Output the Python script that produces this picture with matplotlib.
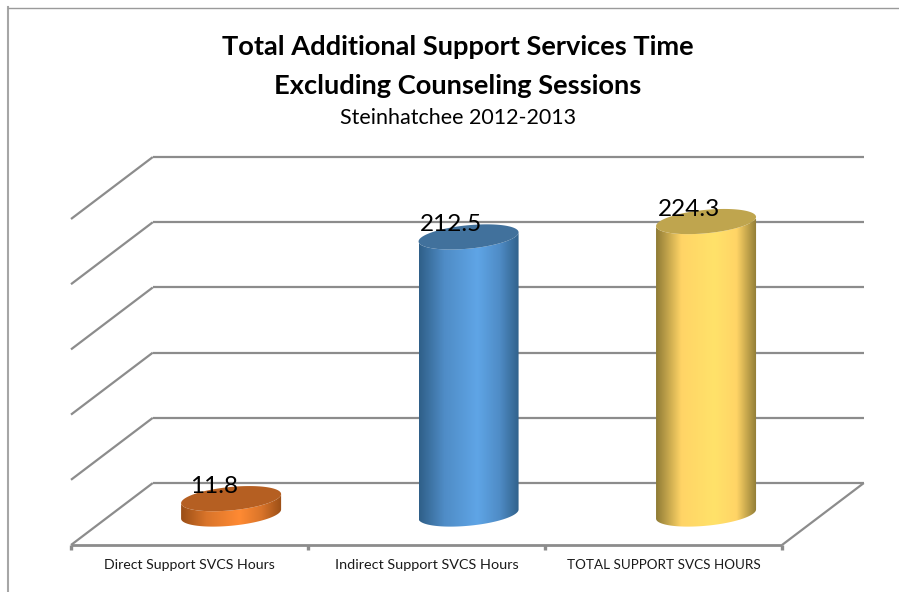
import matplotlib

matplotlib.use("Agg")
import matplotlib.pyplot as plt
import numpy as np
from matplotlib.colors import LinearSegmentedColormap
from matplotlib.lines import Line2D
from matplotlib.patches import Polygon

W, H = 899, 592

categories = ["Direct Support SVCS Hours", "Indirect Support SVCS Hours", "TOTAL SUPPORT SVCS HOURS"]
category_sizes = [10.2, 10.35, 9.75]
values = [11.8, 212.5, 224.3]
value_labels = ["11.8", "212.5", "224.3"]
grid_values = [0, 50, 100, 150, 200, 250]

title_lines = ["Total Additional Support Services Time", "Excluding Counseling Sessions"]
subtitle = "Steinhatchee 2012-2013"

top_colors = ["#B55F22", "#41719C", "#BFA54E"]
edge_colors = ["#9A4E16", "#2F5F88", "#8F7B35"]
mid_colors = ["#FF8A33", "#5FA5E6", "#FFE26A"]
soft_colors = ["#D9742A", "#4F8CC6", "#FFD466"]

GRID = "#8C8C8C"
DEPTH_X = 0.345  # floor depth, in category widths
DEPTH_Y = 47.5  # floor depth, in value units
RADIUS = 0.211
ELL_B = 9.0
ELL_TILT = 3.5

plt.rcParams["font.family"] = ["Lato", "DejaVu Sans"]

fig = plt.figure(figsize=(W / 100, H / 100), dpi=100)
ax = fig.add_axes([71 / W, (H - 545) / H, 711 / W, 326 / H])
ax.axis("off")

xmin, xmax = -0.5, 2.5


def ellipse(cx, cy, t):
    return cx + RADIUS * np.cos(t), cy + ELL_B * np.sin(t) + ELL_TILT * np.cos(t)


def line(xs, ys, lw=1.6):
    ax.plot(xs, ys, color=GRID, lw=lw, clip_on=False, solid_capstyle="butt", zorder=1)


# walls and floor
for v in grid_values:
    line([xmin + DEPTH_X, xmax + DEPTH_X], [v + DEPTH_Y, v + DEPTH_Y])
    line([xmin, xmin + DEPTH_X], [v, v + DEPTH_Y])
line([xmin, xmax], [0, 0], lw=2.0)
line([xmax, xmax + DEPTH_X], [0, DEPTH_Y])
for tick in np.arange(xmin, xmax + 1):
    line([tick, tick], [0, -4], lw=2.4)

# cylinders
t_front = np.linspace(np.pi, 2 * np.pi, 80)
t_full = np.linspace(0, 2 * np.pi, 160)
for i, val in enumerate(values):
    cx = i * 1.002 + DEPTH_X / 2 + 0.003
    base = DEPTH_Y / 2
    bx, by = ellipse(cx, base, t_front)
    tx, ty = ellipse(cx, base + val, t_front)
    body = Polygon(
        np.r_[np.c_[bx, by], np.c_[tx, ty][::-1]],
        closed=True, facecolor="none", edgecolor="none", transform=ax.transData,
    )
    ax.add_patch(body)
    cmap = LinearSegmentedColormap.from_list(
        f"cyl{i}",
        [(0, edge_colors[i]), (0.25, soft_colors[i]), (0.58, mid_colors[i]), (0.8, soft_colors[i]), (1, edge_colors[i])],
    )
    img = ax.imshow(
        np.linspace(0, 1, 256)[None, :],
        cmap=cmap,
        aspect="auto",
        extent=[cx - RADIUS, cx + RADIUS, base - 20, base + val + 20],
        zorder=3,
    )
    img.set_clip_path(body)
    ex, ey = ellipse(cx, base + val, t_full)
    ax.fill(ex, ey, color=top_colors[i], lw=0, zorder=4, clip_on=False)
    ax.text(cx - 0.074, base + val + 9.5, value_labels[i], ha="center", va="center",
            fontsize=17.5, color="black", zorder=5, clip_on=False)
    ax.text(i, -15.5, categories[i], ha="center", va="center", fontsize=category_sizes[i],
            color="#1a1a1a", clip_on=False)

ax.set_xlim(xmin, xmax)
ax.set_ylim(0, 250)

# titles
fig.text(458 / W, 1 - 47 / H, title_lines[0], ha="center", va="center", fontsize=19.6, fontweight="bold")
fig.text(458 / W, 1 - 86 / H, title_lines[1], ha="center", va="center", fontsize=19.6, fontweight="bold")
fig.text(458 / W, 1 - 118 / H, subtitle, ha="center", va="center", fontsize=15.5)

# outer frame of the chart area
fig.add_artist(Line2D([8 / W, 8 / W], [0, 1 - 7 / H], color="#A6A6A6", lw=1.5, transform=fig.transFigure))
fig.add_artist(Line2D([8 / W, 1], [1 - 7.5 / H, 1 - 7.5 / H], color="#9A9A9A", lw=1.0, transform=fig.transFigure))

fig.savefig("out.png", dpi=100)
